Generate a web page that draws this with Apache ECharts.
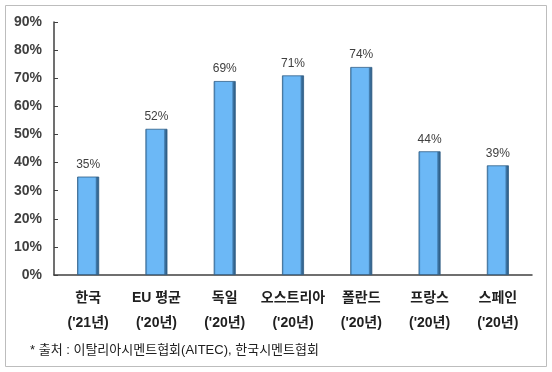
<!DOCTYPE html>
<html><head><meta charset="utf-8">
<script src="https://cdn.jsdelivr.net/npm/echarts@6/dist/echarts.min.js"></script>
<style>html,body{margin:0;padding:0;background:#fff}#c{width:552px;height:372px}</style>
</head><body><div id="c"></div>
<script>
const categories = ["한국\n('21년)", "EU 평균\n('20년)", "독일\n('20년)", "오스트리아\n('20년)", "폴란드\n('20년)", "프랑스\n('20년)", "스페인\n('20년)"];
const values = [35, 52, 69, 71, 74, 44, 39];
const sourceNote = "* 출처 : 이탈리아시멘트협회(AITEC), 한국시멘트협회";
const FONT = "'Liberation Sans', Arial, 'Noto Sans CJK KR', sans-serif";
const chart = echarts.init(document.getElementById('c'), null, {renderer: 'canvas'});
chart.setOption({
  animation: false,
  backgroundColor: '#fff',
  grid: {left: 54, right: 20, top: 22, bottom: 97},
  graphic: [
    {type: 'rect', shape: {x: 5.5, y: 5.5, width: 541, height: 361}, style: {fill: 'none', stroke: '#bdbdbd', lineWidth: 1}, z: -1},
    {type: 'text', left: 30, top: 344, style: {text: sourceNote, font: "13px " + FONT, fill: '#202020'}}
  ],
  xAxis: {
    type: 'category', data: categories,
    axisLine: {lineStyle: {color: '#404040', width: 1.5}},
    axisTick: {inside: true, length: 4, lineStyle: {color: '#404040'}},
    axisLabel: {interval: 0, margin: 11, fontFamily: FONT, fontSize: 14, fontWeight: 'bold', color: '#202020', lineHeight: 25}
  },
  yAxis: {
    type: 'value', min: 0, max: 90, interval: 10,
    axisLine: {show: true, lineStyle: {color: '#404040', width: 1.5}},
    axisTick: {show: true, inside: true, length: 4, lineStyle: {color: '#404040'}},
    splitLine: {show: false},
    axisLabel: {formatter: '{value}%', margin: 12, fontFamily: FONT, fontSize: 14, fontWeight: 'bold', color: '#404040'}
  },
  series: [{
    type: 'bar', data: values, barWidth: 22,
    itemStyle: {
      color: new echarts.graphic.LinearGradient(0, 0, 1, 0, [
        {offset: 0, color: '#3f7fb5'}, {offset: 0.1, color: '#6cb8f6'},
        {offset: 0.82, color: '#6cb8f6'}, {offset: 0.88, color: '#3e76a6'}, {offset: 1, color: '#2a5478'}
      ]),
      borderColor: '#2f5e86', borderWidth: 0.8
    },
    label: {show: true, position: 'top', distance: 6, formatter: '{c}%', fontFamily: FONT, fontSize: 12, color: '#404040'}
  }]
});
</script></body></html>
